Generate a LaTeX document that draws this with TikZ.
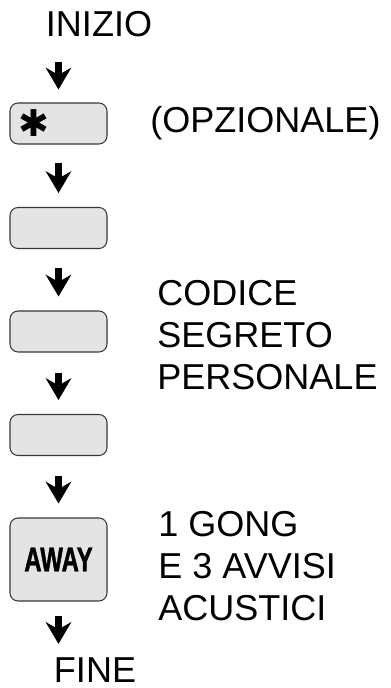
\documentclass[tikz,border=0pt]{standalone}
\usepackage{fontspec}
\setmainfont{Liberation Sans}
\newfontfamily\keyfont[FakeStretch=0.7, FakeBold=1.2]{Liberation Sans Bold}
\newfontfamily\symfont{DejaVu Sans}
\usepackage{tikz}
\usetikzlibrary{arrows.meta, positioning, calc}
\definecolor{keygray}{RGB}{228, 228, 228}
\definecolor{keyedge}{RGB}{55, 55, 55}

\begin{document}
\begin{tikzpicture}[x=0.02cm, y=-0.02cm,
  txt/.style={font=\fontsize{20.5}{23.9}\selectfont, inner sep=0pt, align=left},
  keybox/.style={draw=keyedge, line width=0.6pt, fill=keygray, rounded corners=0.16cm,
    minimum width=1.94cm, minimum height=0.82cm, inner sep=0pt},
  flow/.style={line width=0.15cm, -{Stealth[length=0.44cm, width=0.52cm, inset=0.15cm, line width=0pt]}}]
  \useasboundingbox (0,0) rectangle (390,688);

  % Start and end
  \node[txt, anchor=base] (start) at (99,37) {INIZIO};
  \node[txt, anchor=base] (fine) at (95,682) {FINE};

  % Keys
  \node[keybox] (k1) at (58.5,123.5) {};
  \node[font=\symfont\fontsize{21}{21}\selectfont, inner sep=0pt] (star) at (34,123) {✱};
  \node[keybox] (k2) at (58.5,228) {};
  \node[keybox] (k3) at (58.5,331.5) {};
  \node[keybox] (k4) at (58.5,435) {};
  \node[keybox, minimum height=1.66cm, font=\keyfont\fontsize{19.5}{19.5}\selectfont]
    (away) at (58.5,559.5) {AWAY};

  % Arrows between steps
  \draw[flow, shorten <=0.48cm, shorten >=0.26cm] (start.south -| k1.north) -- (k1.north);
  \draw[flow, shorten <=0.36cm, shorten >=0.28cm] (k1) -- (k2);
  \draw[flow, shorten <=0.38cm, shorten >=0.28cm] (k2) -- (k3);
  \draw[flow, shorten <=0.40cm, shorten >=0.28cm] (k3) -- (k4);
  \draw[flow, shorten <=0.40cm, shorten >=0.28cm] (k4) -- (away);
  \draw[flow, shorten <=0.28cm, shorten >=0.26cm] (away.south) -- (fine.north -| away.south);

  % Notes on the right
  \node[txt, anchor=base west] (opt) at (150,133) {(OPZIONALE)};
  \node[txt, anchor=base west] (code) at (157,389) {CODICE\\SEGRETO\\PERSONALE};
  \node[txt, anchor=base west] (gong) at (158,620) {1 GONG\\E 3 AVVISI\\ACUSTICI};
\end{tikzpicture}
\end{document}
